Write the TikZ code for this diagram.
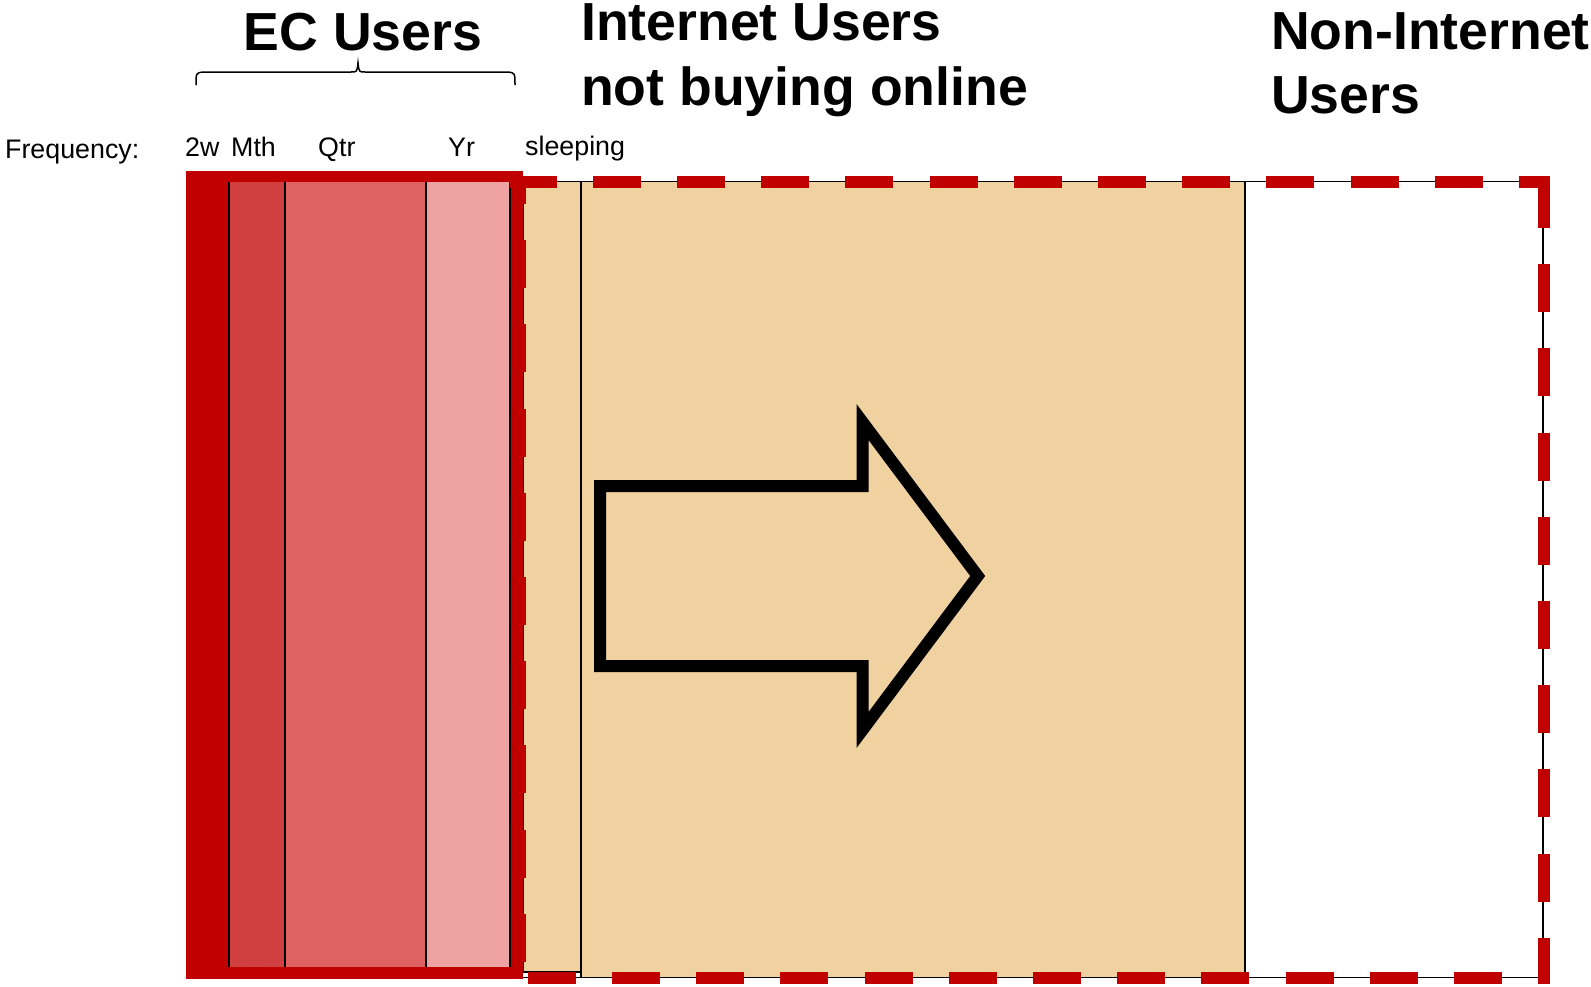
\documentclass[tikz,border=0pt]{standalone}
\usepackage{fontspec}
\setmainfont{Liberation Sans}
\definecolor{ecred}{RGB}{192,0,0}
\definecolor{mthred}{RGB}{208,64,64}
\definecolor{qtrred}{RGB}{222,98,98}
\definecolor{yrred}{RGB}{238,162,162}
\definecolor{beige}{RGB}{240,209,160}
\tikzset{
  bigtxt/.style={anchor=base west, inner sep=0pt, font=\fontsize{53.6}{60}\selectfont\bfseries},
  smalltxt/.style={anchor=base west, inner sep=0pt, font=\fontsize{26.8}{30}\selectfont},
  thinline/.style={draw=black, line width=1.5pt},
  reddash/.style={draw=ecred, line width=12pt, dash pattern=on 48pt off 36.2pt, line cap=butt},
  arrowline/.style={draw=black, line width=12pt, line join=miter, miter limit=10},
}
\begin{document}
\begin{tikzpicture}[x=1pt,y=-1pt]
\useasboundingbox (0,0) rectangle (1591,986);
% outer thin frame and white area
\draw[thinline, fill=white] (189,181.5) rectangle (1543,977.5);
% beige regions
\draw[thinline, fill=beige] (523,181.5) rectangle (581,972);
\draw[thinline, fill=beige] (581,181.5) rectangle (1245,977.5);
% EC users block
\fill[ecred] (186,171) rectangle (523,979);
\fill[mthred] (229,182) rectangle (285,967);
\fill[qtrred] (285,182) rectangle (426,967);
\fill[yrred] (426,182) rectangle (510,967);
\draw[thinline] (229,182) -- (229,967);
\draw[thinline] (285,182) -- (285,967);
\draw[thinline] (426,182) -- (426,967);
\draw[thinline] (510,182) -- (510,967);
% dashed red frame
\draw[reddash, dash phase=17pt] (1550,181.5) -- (510,181.5);
\draw[reddash] (1544,180) -- (1544,983);
\draw[reddash] (527.7,977.5) -- (1550,977.5);
\draw[reddash, dash phase=20pt] (520,176) -- (520,983);
% arrow
\draw[arrowline] (600,486) -- (862.5,486) -- (862.5,422) -- (977.7,576) -- (862.5,730) -- (862.5,666) -- (600,666) -- cycle;
% brace
\draw[line width=1.5pt] (196,85) .. controls (196,73) .. (203,72) -- (351,72) .. controls (357,72) .. (358,63) .. controls (359,72) .. (365,72) -- (508,72) .. controls (515,73) .. (515,85);
% texts
\node[bigtxt] (ec) at (243.5,50) {EC Users};
\node[bigtxt] (inet1) at (581,40.5) {Internet Users};
\node[bigtxt] (inet2) at (581,105) {not buying online};
\node[bigtxt] (non1) at (1271,49) {Non-Internet};
\node[bigtxt] (non2) at (1271,113.5) {Users};
\node[smalltxt] (freq) at (5,158) {Frequency:};
\node[smalltxt] (w2) at (185,156.5) {2w};
\node[smalltxt] (mth) at (231,156.5) {Mth};
\node[smalltxt] (qtr) at (318,156.5) {Qtr};
\node[smalltxt] (yr) at (448,156.5) {Yr};
\node[smalltxt] (sleep) at (525,155) {sleeping};
\end{tikzpicture}
\end{document}
